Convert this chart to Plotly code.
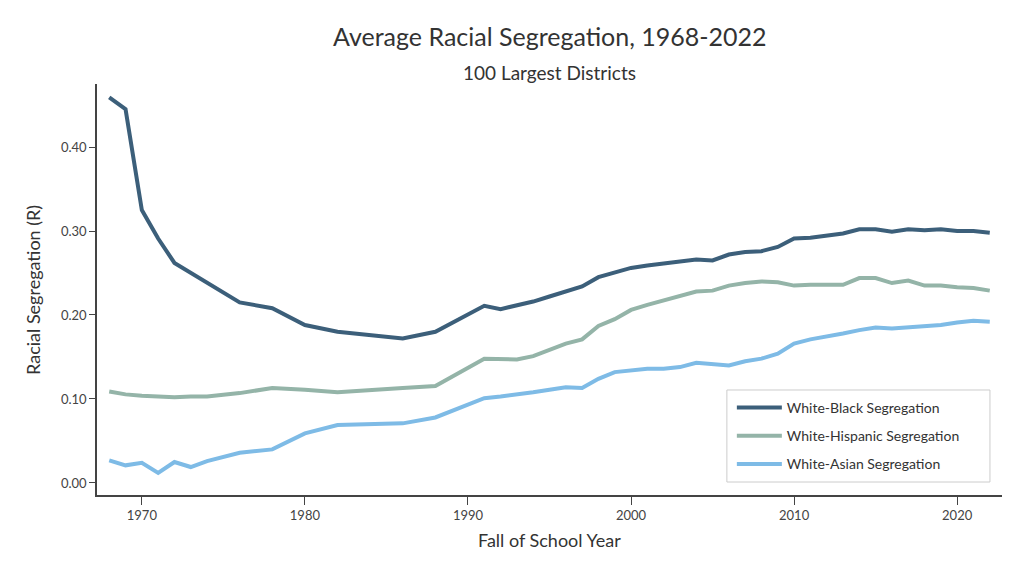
import plotly.graph_objects as go

years = [1968, 1969, 1970, 1971, 1972, 1973, 1974, 1976, 1978, 1980, 1982, 1986, 1988,
         1991, 1992, 1993, 1994, 1995, 1996, 1997, 1998, 1999, 2000, 2001, 2002, 2003,
         2004, 2005, 2006, 2007, 2008, 2009, 2010, 2011, 2012, 2013, 2014, 2015, 2016,
         2017, 2018, 2019, 2020, 2021, 2022]

white_black = [0.459, 0.445, 0.325, 0.291, 0.262, 0.250, 0.238, 0.215, 0.208, 0.188, 0.180, 0.172, 0.180,
               0.211, 0.207, 0.211, 0.216, 0.222, 0.228, 0.234, 0.245, 0.250, 0.256, 0.259, 0.261, 0.263,
               0.266, 0.265, 0.272, 0.275, 0.276, 0.281, 0.291, 0.292, 0.295, 0.297, 0.302, 0.302, 0.299,
               0.302, 0.301, 0.302, 0.300, 0.300, 0.298]

white_hispanic = [0.109, 0.1055, 0.104, 0.103, 0.102, 0.103, 0.103, 0.107, 0.113, 0.111, 0.108, 0.113, 0.1155,
                  0.148, 0.147, 0.147, 0.151, 0.158, 0.166, 0.171, 0.187, 0.195, 0.206, 0.212, 0.217, 0.222,
                  0.228, 0.229, 0.235, 0.238, 0.240, 0.239, 0.235, 0.236, 0.236, 0.236, 0.244, 0.244, 0.238,
                  0.241, 0.235, 0.235, 0.233, 0.232, 0.229]

white_asian = [0.027, 0.021, 0.024, 0.012, 0.025, 0.019, 0.026, 0.036, 0.040, 0.059, 0.069, 0.071, 0.078,
               0.101, 0.103, 0.105, 0.108, 0.111, 0.114, 0.113, 0.124, 0.132, 0.134, 0.136, 0.136, 0.138,
               0.143, 0.141, 0.140, 0.145, 0.148, 0.154, 0.166, 0.171, 0.174, 0.178, 0.182, 0.185, 0.184,
               0.185, 0.187, 0.188, 0.191, 0.193, 0.192]

series_names = ["White-Black Segregation", "White-Hispanic Segregation", "White-Asian Segregation"]
colors = ["#3c5f7a", "#94b4a8", "#7ebbe6"]

title_text = "Average Racial Segregation, 1968-2022"
subtitle_text = "100 Largest Districts"
x_title = "Fall of School Year"
y_title = "Racial Segregation (R)"

FONT = "Lato, 'Open Sans', sans-serif"
TXT = "#333333"

fig = go.Figure()
for i, (name, vals, col) in enumerate(zip(series_names, [white_black, white_hispanic, white_asian], colors)):
    fig.add_trace(go.Scatter(x=years, y=vals, mode="lines", name=name, legendgroup=f"g{i}",
                             line=dict(color=col, width=4)))

fig.update_layout(
    width=1024, height=576,
    paper_bgcolor="white", plot_bgcolor="white",
    margin=dict(l=89, r=30, t=76, b=89, autoexpand=False),
    font=dict(family=FONT, color=TXT),
    showlegend=True,
    legend=dict(x=0.7015, y=0.2506, xanchor="left", yanchor="top",
                bgcolor="rgba(0,0,0,0)", borderwidth=0,
                font=dict(size=14, family=FONT, color=TXT),
                tracegroupgap=7, itemwidth=45),
    shapes=[dict(type="rect", xref="paper", yref="paper",
                 x0=0.696, x1=0.9867, y0=0.0316, y1=0.2555,
                 line=dict(color="#cccccc", width=1), fillcolor="white", layer="above")],
    xaxis=dict(range=[1967.25, 2022.75], tickmode="linear", tick0=1970, dtick=10,
               showgrid=False, zeroline=False, showline=True, linecolor="#444444", linewidth=1.5,
               ticks="outside", ticklen=8, tickcolor="#444444", automargin=False,
               tickfont=dict(size=13, color="#444444")),
    yaxis=dict(range=[-0.0143, 0.475], tickmode="array", tickvals=[0, 0.1, 0.2, 0.3, 0.4],
               tickformat=".2f", automargin=False,
               showgrid=False, zeroline=False, showline=True, linecolor="#444444", linewidth=1.5,
               ticks="outside", ticklen=6, tickcolor="#444444",
               tickfont=dict(size=13, color="#444444")),
    annotations=[
        dict(text=title_text, xref="paper", yref="paper", x=0.5, y=1.1168,
             xanchor="center", yanchor="middle", showarrow=False,
             font=dict(size=25, family=FONT, color=TXT)),
        dict(text=subtitle_text, xref="paper", yref="paper", x=0.5, y=1.029,
             xanchor="center", yanchor="middle", showarrow=False,
             font=dict(size=19, family=FONT, color=TXT)),
        dict(text=x_title, xref="paper", yref="paper", x=0.5, y=-0.1095,
             xanchor="center", yanchor="middle", showarrow=False,
             font=dict(size=18, family=FONT, color=TXT)),
        dict(text=y_title, xref="paper", yref="paper", x=-0.0707, y=0.499,
             xanchor="center", yanchor="middle", showarrow=False, textangle=-90,
             font=dict(size=18, family=FONT, color=TXT)),
    ],
)

fig.write_html("out.html")
